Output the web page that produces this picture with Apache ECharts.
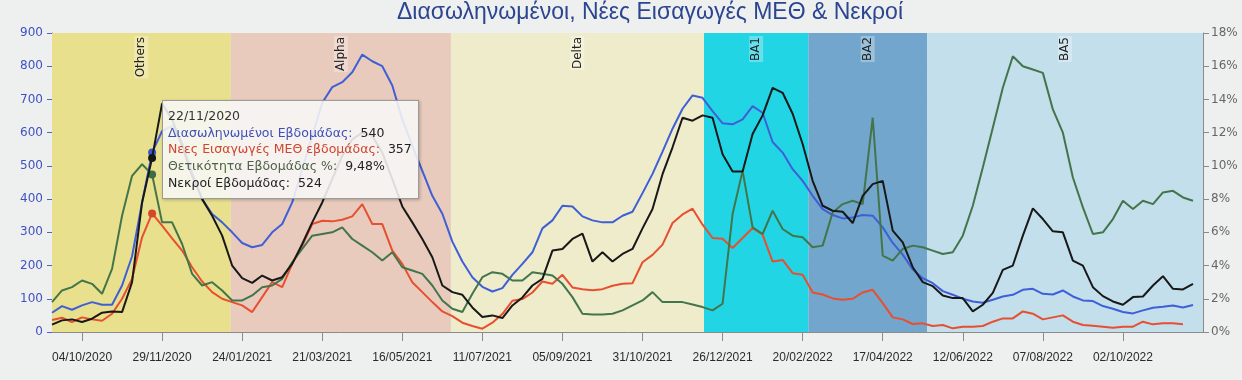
<!DOCTYPE html>
<html>
<head>
<meta charset="utf-8">
<script src="https://cdn.jsdelivr.net/npm/echarts@6/dist/echarts.min.js"></script>
<style>
html,body{margin:0;padding:0;background:#eef0f0;}
#c{width:1242px;height:380px;}
</style>
</head>
<body>
<div id="c"></div>
<script>
// ---- weekly categories (Sundays) ----
const weeks = [
'13/09/2020','20/09/2020','27/09/2020','04/10/2020','11/10/2020','18/10/2020','25/10/2020','01/11/2020','08/11/2020','15/11/2020',
'22/11/2020','29/11/2020','06/12/2020','13/12/2020','20/12/2020','27/12/2020','03/01/2021','10/01/2021','17/01/2021','24/01/2021',
'31/01/2021','07/02/2021','14/02/2021','21/02/2021','28/02/2021','07/03/2021','14/03/2021','21/03/2021','28/03/2021','04/04/2021',
'11/04/2021','18/04/2021','25/04/2021','02/05/2021','09/05/2021','16/05/2021','23/05/2021','30/05/2021','06/06/2021','13/06/2021',
'20/06/2021','27/06/2021','04/07/2021','11/07/2021','18/07/2021','25/07/2021','01/08/2021','08/08/2021','15/08/2021','22/08/2021',
'29/08/2021','05/09/2021','12/09/2021','19/09/2021','26/09/2021','03/10/2021','10/10/2021','17/10/2021','24/10/2021','31/10/2021',
'07/11/2021','14/11/2021','21/11/2021','28/11/2021','05/12/2021','12/12/2021','19/12/2021','26/12/2021','02/01/2022','09/01/2022',
'16/01/2022','23/01/2022','30/01/2022','06/02/2022','13/02/2022','20/02/2022','27/02/2022','06/03/2022','13/03/2022','20/03/2022',
'27/03/2022','03/04/2022','10/04/2022','17/04/2022','24/04/2022','01/05/2022','08/05/2022','15/05/2022','22/05/2022','29/05/2022',
'05/06/2022','12/06/2022','19/06/2022','26/06/2022','03/07/2022','10/07/2022','17/07/2022','24/07/2022','31/07/2022','07/08/2022',
'14/08/2022','21/08/2022','28/08/2022','04/09/2022','11/09/2022','18/09/2022','25/09/2022','02/10/2022','09/10/2022','16/10/2022',
'23/10/2022','30/10/2022','06/11/2022','13/11/2022','20/11/2022','27/11/2022'
];

// Διασωληνωμένοι Εβδομάδας
const intubated = [
58,78,67,80,90,82,82,140,228,390,
540,605,620,570,480,400,355,330,300,268,
255,262,300,325,390,490,590,690,737,752,
782,835,815,800,742,640,560,485,410,356,
272,212,165,136,122,132,172,205,240,312,
336,380,378,348,336,330,330,350,362,418,
476,543,612,672,712,705,665,628,625,640,
680,660,572,540,490,455,410,370,352,342,
345,352,350,315,268,233,188,162,147,123,
112,100,92,88,97,107,112,127,130,115,
113,125,107,95,93,78,70,60,56,65,
73,76,80,74,81
];

// Νεες Εισαγωγές ΜΕΘ εβδομάδας
const icuAdmissions = [
36,43,30,44,38,34,55,100,160,285,
357,320,282,245,195,152,120,100,90,80,
60,105,150,135,205,260,325,335,333,338,
348,385,325,325,245,205,150,120,90,62,
48,28,18,10,28,54,94,99,119,152,
145,172,134,129,126,129,139,145,147,210,
232,263,328,354,371,323,283,281,253,283,
313,293,212,217,177,172,119,113,101,97,
100,119,127,87,44,38,24,26,18,21,
11,16,16,18,31,41,41,62,55,38,
44,50,31,21,19,16,13,16,16,31,
23,26,26,23,null
];

// Θετικότητα Εβδομάδας %
const positivity = [
1.8,2.5,2.7,3.1,2.9,2.3,3.8,7.0,9.4,10.1,
9.48,6.6,6.6,5.3,3.5,2.8,3.0,2.5,1.9,1.9,
2.2,2.7,2.8,3.2,4.2,5.0,5.8,5.9,6.0,6.3,
5.6,5.2,4.8,4.3,4.8,3.9,3.7,3.5,2.8,1.9,
1.4,1.2,2.3,3.3,3.6,3.5,3.1,3.1,3.6,3.5,
3.4,2.9,2.1,1.1,1.05,1.05,1.1,1.3,1.6,1.9,
2.4,1.8,1.8,1.8,1.65,1.5,1.3,1.7,7.1,9.7,
6.3,5.9,7.3,6.2,5.8,5.7,5.1,5.2,7.2,7.7,
7.9,7.7,12.9,4.6,4.3,5.0,5.2,5.1,4.9,4.7,
4.8,5.8,7.6,9.9,12.3,14.7,16.6,16.0,15.8,15.6,
13.4,12.0,9.3,7.5,5.9,6.0,6.8,7.9,7.4,7.9,
7.7,8.4,8.5,8.1,7.9
];

// Νεκροί Εβδομάδας
const deaths = [
22,35,38,30,40,58,62,60,150,390,
524,688,640,560,470,400,350,290,200,162,
148,170,155,165,205,265,330,390,460,530,
580,600,590,540,460,378,330,280,225,140,
120,112,74,45,50,42,80,104,140,160,
245,250,280,296,212,240,212,235,250,312,
370,475,556,645,636,652,645,535,483,483,
596,652,735,720,657,566,455,380,365,362,
328,410,445,455,305,270,195,150,138,110,
102,102,62,82,118,187,200,290,372,340,
303,300,215,200,135,108,92,82,105,107,
140,168,130,128,145
];

// variant periods: [label, start date, end date]
const variants = [
['Others','13/09/2020','16/01/2021'],
['Alpha','16/01/2021','19/06/2021'],
['Delta','19/06/2021','13/12/2021'],
['BA1','13/12/2021','24/02/2022'],
['BA2','24/02/2022','18/05/2022'],
['BA5','18/05/2022','27/11/2022']
];
const variantColors = ['#e9e08e','#e8cbbd','#eeeccb','#22d5e5','#72a6cc','#c3dfeb'];

const seriesNames = ['Διασωληνωμένοι Εβδομάδας','Νεες Εισαγωγές ΜΕΘ εβδομάδας','Θετικότητα Εβδομάδας %','Νεκροί Εβδομάδας'];
const seriesColors = ['#3a57c4','#d2482c','#3d6b45','#161616'];
const nameColors = ['#3f4fb8','#d0452e','#4f6148','#222222'];

const leftTicks = {min:0, max:900, interval:100};
const rightTicks = {min:0, max:18, interval:2};

function dayOffset(s){
  const p = s.split('/');
  const q = weeks[0].split('/');
  return (Date.UTC(+p[2],+p[1]-1,+p[0]) - Date.UTC(+q[2],+q[1]-1,+q[0]))/86400000;
}
const totalDays = dayOffset(weeks[weeks.length-1]);
const showIdx = (i) => i % 8 === 3 && i < weeks.length - 1;

const chart = echarts.init(document.getElementById('c'));
const bandData = variants.map((v,k)=>[
  {name:v[0], xAxis:dayOffset(v[1]), itemStyle:{color:variantColors[k]}},
  {xAxis:dayOffset(v[2])}
]);

const mk = (k, data, yIdx) => ({
  name: seriesNames[k], type:'line', data: data, yAxisIndex: yIdx, xAxisIndex:0,
  showSymbol:false, symbol:'circle', symbolSize:8, connectNulls:false,
  lineStyle:{width:2, color:seriesColors[k]}, itemStyle:{color:seriesColors[k]},
  emphasis:{scale:false, lineStyle:{width:2}}, z: 3+k
});

chart.setOption({
  animation:false,
  backgroundColor:'transparent',
  title:{
    text:'Διασωληνωμένοι, Νέες Εισαγωγές ΜΕΘ & Νεκροί',
    left:392, top:-4,
    textStyle:{fontFamily:'Liberation Sans', fontSize:23, fontWeight:'normal', color:'#2b4590'}
  },
  grid:{left:52, right:39, top:33, bottom:48},
  tooltip:{
    trigger:'axis',
    alwaysShowContent:true,
    transitionDuration:0,
    position:function(){ return [162,100]; },
    axisPointer:{type:'line', lineStyle:{opacity:0}},
    backgroundColor:'rgba(247,247,247,0.88)',
    borderColor:'#9a9a9a', borderWidth:1, padding:[7,6,6,5],
    extraCssText:'box-shadow:1px 1px 3px rgba(0,0,0,0.25);border-radius:0;',
    textStyle:{fontFamily:'DejaVu Sans', fontSize:12.5, color:'#333'},
    formatter:function(ps){
      let h = '<div style="line-height:16.7px;font-family:DejaVu Sans;font-size:12.5px;color:#333">' + ps[0].axisValue;
      ps.forEach(p=>{
        const k = p.seriesIndex;
        const v = (k===2) ? Number(p.value).toFixed(2).replace('.',',')+'%' : p.value;
        h += '<br><span style="color:'+nameColors[k]+'">'+p.seriesName+':</span>&nbsp;&nbsp;<span style="color:#222">'+v+'</span>';
      });
      return h + '</div>';
    }
  },
  xAxis:[{
    type:'category', data:weeks, boundaryGap:false,
    axisLine:{lineStyle:{color:'#8a8a8a'}},
    axisTick:{interval:(i)=>showIdx(i), length:9, lineStyle:{color:'#8a8a8a'}},
    axisLabel:{interval:(i)=>showIdx(i), margin:20, color:'#2a2a2a', fontFamily:'Liberation Sans', fontSize:12},
    splitLine:{show:true, interval:(i)=>showIdx(i), lineStyle:{color:'rgba(140,140,140,0.45)'}}
  },{
    type:'value', min:0, max:totalDays, show:false, axisPointer:{show:false}
  }],
  yAxis:[{
    type:'value', min:leftTicks.min, max:leftTicks.max, interval:leftTicks.interval,
    axisLine:{show:true, lineStyle:{color:'#5464c4'}},
    axisTick:{show:true, length:5, lineStyle:{color:'#5464c4'}},
    axisLabel:{color:'#3f51c0', fontFamily:'DejaVu Sans', fontSize:12, margin:9},
    splitLine:{show:true, lineStyle:{color:'rgba(140,140,140,0.5)'}}
  },{
    type:'value', min:rightTicks.min, max:rightTicks.max, interval:rightTicks.interval, position:'right',
    axisLine:{show:true, lineStyle:{color:'#8a8a8a'}},
    axisTick:{show:true, length:6, lineStyle:{color:'#8a8a8a'}},
    axisLabel:{color:'#666', fontFamily:'DejaVu Sans', fontSize:12, margin:8, formatter:'{value}%'},
    splitLine:{show:false}
  }],
  series:[
    mk(0, intubated, 0),
    mk(1, icuAdmissions, 0),
    mk(2, positivity, 1),
    mk(3, deaths, 0),
    {
      name:'variants', type:'line', xAxisIndex:1, yAxisIndex:0, data:[], silent:true, z:1,
      tooltip:{show:false},
      markArea:{
        silent:true,
        label:{
          show:true, position:'insideTop', rotate:90, align:'right', verticalAlign:'middle',
          distance:3, color:'#222', fontFamily:'DejaVu Sans', fontSize:12,
          backgroundColor:'rgba(255,255,255,0.3)', padding:[1,1]
        },
        data:bandData
      }
    }
  ]
});
chart.dispatchAction({type:'showTip', seriesIndex:0, dataIndex:10});
</script>
</body>
</html>
